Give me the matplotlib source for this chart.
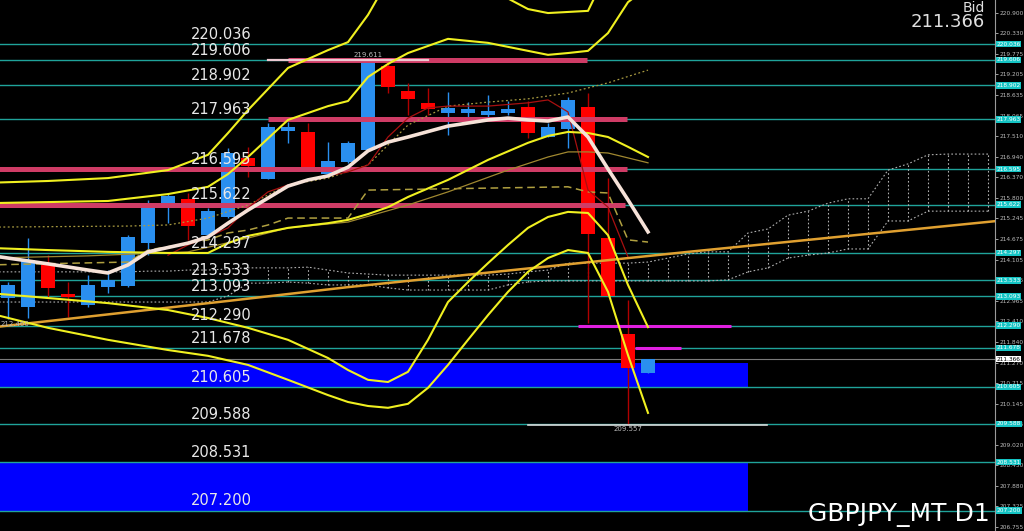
import matplotlib
matplotlib.use("Agg")
import matplotlib.pyplot as plt

# GBPJPY daily candles, oldest first (index 0..32)
OPEN = [213.05, 212.80, 213.96, 213.16, 212.86, 213.35, 213.38, 214.56, 215.55, 215.78,
        214.78, 215.28, 216.90, 216.33, 217.65, 217.62, 216.46, 216.79, 217.12, 219.43,
        218.75, 218.42, 218.14, 218.14, 218.09, 218.14, 218.31, 217.48, 217.70, 218.31,
        214.70, 212.06, 210.99]
HIGH = [213.49, 214.70, 214.23, 213.49, 213.68, 213.82, 214.78, 215.75, 215.91, 215.94,
        215.53, 217.18, 217.21, 217.87, 217.89, 217.87, 217.34, 217.37, 219.611, 219.52,
        218.97, 218.83, 218.72, 218.44, 218.64, 218.47, 218.47, 217.87, 218.58, 218.69,
        216.35, 213.00, 211.37]
LOW = [212.46, 212.50, 213.08, 212.53, 212.80, 213.19, 213.35, 214.23, 215.11, 214.65,
       214.73, 215.25, 216.38, 216.33, 217.32, 216.65, 216.46, 216.77, 217.10, 218.69,
       218.09, 218.09, 217.54, 217.95, 217.95, 218.09, 217.45, 217.48, 217.18, 212.36,
       213.11, 209.557, 210.99]
CLOSE = [213.41, 214.10, 213.33, 213.08, 213.41, 213.55, 214.73, 215.64, 215.86, 215.03,
         215.44, 217.04, 216.68, 217.76, 217.76, 216.66, 216.82, 217.32, 219.58, 218.86,
         218.53, 218.25, 218.28, 218.25, 218.20, 218.25, 217.59, 217.76, 218.50, 214.81,
         213.11, 211.13, 211.366]
BID = 211.366

# horizontal levels drawn on the chart
LEVELS = [220.036, 219.606, 218.902, 217.963, 216.595, 215.622, 214.297, 213.533,
          213.093, 212.290, 211.678, 210.605, 209.588, 208.531, 207.200]

# right price scale
TICKS = [220.900, 220.330, 219.775, 219.205, 218.635, 218.065, 217.510, 216.940,
         216.370, 215.800, 215.245, 214.675, 214.105, 213.535, 212.965, 212.410,
         211.840, 211.270, 210.715, 210.145, 209.575, 209.020, 208.450, 207.880,
         207.325, 206.755]

# bollinger style bands (yellow)
BB_X = [-1, 2, 5, 8, 10, 11, 12, 14, 16, 17, 18, 19, 20, 22, 24, 26, 27, 28, 29, 30, 31, 32]
BB_UP3 = [216.22, 216.27, 216.35, 216.57, 216.99, 217.59, 218.22, 219.38, 219.87, 220.09, 220.84,
          221.80, 222.35, 222.62, 221.58, 221.00, 220.89, 220.92, 220.95, 222.08, 223.17, 223.97]
BB_UP2 = [215.66, 215.69, 215.72, 215.91, 216.11, 216.46, 216.93, 217.95, 218.33, 218.47, 219.13,
          219.49, 219.79, 220.18, 220.07, 219.85, 219.74, 219.79, 219.85, 220.34, 221.19, 221.61]
BB_MID = [214.43, 214.37, 214.32, 214.29, 214.29, 214.56, 214.76, 214.98, 215.11, 215.20, 215.36,
          215.55, 215.83, 216.30, 216.85, 217.32, 217.51, 217.62, 217.59, 217.48, 217.21, 216.93]

LB_X = [-1, 2, 5, 8, 10, 12, 14, 16, 17, 18, 19, 20, 21, 22, 23, 24, 25, 26, 27, 28, 29, 30, 31, 32]
BB_LO2 = [213.19, 213.05, 212.91, 212.72, 212.50, 212.23, 211.90, 211.40, 211.07, 210.80, 210.74,
          211.02, 211.90, 212.94, 213.49, 214.01, 214.51, 214.98, 215.28, 215.42, 215.39, 214.78,
          213.41, 212.25]
BB_LO3 = [212.64, 212.23, 211.90, 211.62, 211.46, 211.21, 210.80, 210.38, 210.19, 210.08, 210.03,
          210.14, 210.58, 211.21, 211.90, 212.58, 213.22, 213.77, 214.15, 214.37, 214.29, 213.22,
          211.48, 209.89]

# white moving average
MA_X = [-1, 0, 2, 4, 5, 6, 7, 9, 10, 11, 12, 13, 14, 15, 16, 17, 18, 19, 20, 22, 24, 25, 26, 27,
        28, 29, 30, 31, 32]
MA = [214.23, 214.15, 213.99, 213.82, 213.74, 213.96, 214.32, 214.56, 214.73, 215.11, 215.47,
      215.80, 216.13, 216.30, 216.41, 216.65, 217.10, 217.34, 217.48, 217.78, 217.95, 218.00,
      217.95, 217.92, 218.03, 217.48, 216.60, 215.75, 214.87]

# long moving average (gold)
LMA_X = [-1, 11, 17, 34, 50]
LMA = [212.23, 212.97, 213.35, 214.32, 215.20]

# thin olive average
EMA_X = [-1, 4, 9, 12, 14, 17, 20, 22, 25, 27, 28, 29, 30, 32]
EMA = [214.15, 214.21, 214.32, 214.70, 214.98, 215.14, 215.61, 215.97, 216.57, 216.93, 217.07,
       217.07, 217.04, 216.77]

# ichimoku tenkan / kijun
TENKAN_X = [8, 9, 10, 11, 12, 13, 14, 15, 16, 17, 18, 19, 20, 21, 22, 24, 26, 27, 28, 29, 30, 31]
TENKAN = [214.23, 214.51, 214.73, 214.98, 215.53, 215.97, 216.16, 216.30, 216.41, 216.52, 216.71,
          217.48, 218.00, 218.28, 218.33, 218.33, 218.42, 218.50, 218.17, 216.02, 215.55, 214.18]
KIJUN_X = [-1, 6, 7, 10, 11, 12, 13, 14, 17, 18, 28, 29, 30, 31, 32]
KIJUN = [213.96, 214.04, 214.37, 214.65, 214.84, 214.92, 215.06, 215.25, 215.25, 216.02, 216.11,
         215.97, 215.94, 214.65, 214.59]

# dotted olive line
DOT_X = [-1, 6, 8, 10, 12, 14, 16, 18, 20, 22, 24, 26, 28, 30, 32]
DOT = [215.00, 215.03, 215.06, 215.25, 215.61, 216.16, 216.35, 216.71, 217.81, 218.33, 218.44,
       218.53, 218.69, 218.97, 219.32]

# cloud spans, index -1..49
SPAN_X = list(range(-1, 50))
SPAN_A = [213.77] * 8 + [213.79, 213.79, 213.82, 213.82, 213.85, 213.88, 213.88, 213.88, 213.90,
                         213.82, 213.74, 213.71] + [213.68] * 6 + [213.71, 213.77, 213.82] + \
         [214.01] * 4 + [214.04, 214.15, 214.26, 214.32, 214.32, 214.84, 214.95, 215.33, 215.44,
                         215.66, 215.78, 215.78, 216.57, 216.74, 216.99, 217.01, 217.01, 217.01]
SPAN_B = [212.94] * 12 + [213.11, 213.46, 213.46, 213.49, 213.46, 213.41, 213.41, 213.41,
                          213.33] + [213.27] * 5 + [213.41, 213.49] + [213.52] * 9 + \
         [213.55, 213.77, 213.88, 214.15, 214.23, 214.29, 214.40, 214.40, 215.17, 215.17] + \
         [215.44] * 4

# drawn objects: (price, start index, end index)
RED_LINES = [(219.606, 14, 28.95), (217.963, 13, 30.95), (216.595, -1, 30.95), (215.622, -1, 30.85)]
MAGENTA_LINES = [(212.290, 28.5, 36.15), (211.678, 31.35, 33.65)]
BOXES = [(211.26, 210.605), (208.531, 207.200)]
BOX_END = 37
HIGH_MARK = (219.611, 13, 21)
LOW_MARK = (209.557, 26, 37.95)

BG = "black"
TEAL = "#1fa39a"

fig = plt.figure(figsize=(10.24, 5.31), dpi=100, facecolor=BG)
ax = fig.add_axes([0, 0, 995 / 1024, 1], facecolor=BG)
ax.set_xlim(-0.4, 49.35)
ax.set_ylim(206.641, 221.249)

# blue zones
for top, bot in BOXES:
    ax.fill_between([-1, BOX_END], bot, top, color="#0000ff", lw=0, zorder=1)

# level lines + labels
for lv in LEVELS:
    ax.axhline(lv, color=TEAL, lw=1, zorder=2)
    ax.text(9.15, lv + 0.06, f"{lv:.3f}", color="#e8e8e8", fontsize=10.5,
            va="bottom", ha="left", zorder=6)
ax.axhline(BID, color="#7a7a7a", lw=0.8, zorder=2)

# cloud
ax.plot(SPAN_X, SPAN_A, color="#b0b0b0", lw=0.8, ls=(0, (1.5, 2)), zorder=2)
ax.plot(SPAN_X, SPAN_B, color="#b0b0b0", lw=0.8, ls=(0, (1.5, 2)), zorder=2)
for i, a, b in zip(SPAN_X, SPAN_A, SPAN_B):
    if i >= 13:
        ax.vlines(i, b, a, color="#b0b0b0", lw=0.8, ls=(0, (1.5, 2)), zorder=2)

# horizontal objects
for p, x0, x1 in RED_LINES:
    ax.plot([x0, x1], [p, p], color="#cf3c66", lw=3.6, solid_capstyle="butt", zorder=5)
p, x0, x1 = HIGH_MARK
ax.plot([x0, x1], [p, p], color="#eccad2", lw=1.6, zorder=5)
ax.text(18, p + 0.04, f"{p:.3f}", color="#bbbbbb", fontsize=5, ha="center", va="bottom", zorder=6)
for p, x0, x1 in MAGENTA_LINES:
    ax.plot([x0, x1], [p, p], color="#e020e0", lw=2.2, solid_capstyle="butt", zorder=5)
p, x0, x1 = LOW_MARK
ax.plot([x0, x1], [p, p], color="#d8d8d8", lw=1.2, zorder=5)
ax.text(31, p - 0.04, f"{p:.3f}", color="#bbbbbb", fontsize=5, ha="center", va="top", zorder=6)
ax.text(-0.35, LOW[0] - 0.03, f"{LOW[0]:.3f}", color="#bbbbbb", fontsize=5, ha="left",
        va="top", zorder=6)

# candles
for i in range(len(OPEN)):
    up = CLOSE[i] >= OPEN[i]
    body = "#2a8fef" if up else "#ff0000"
    wick = "#2a8fef" if up else "#b00000"
    ax.vlines(i, LOW[i], HIGH[i], color=wick, lw=1, zorder=4)
    lo, hi = min(OPEN[i], CLOSE[i]), max(OPEN[i], CLOSE[i])
    ax.bar(i, hi - lo, bottom=lo, width=0.74, color=body, lw=0, zorder=4)

# indicators
ax.plot(DOT_X, DOT, color="#a89a40", lw=0.9, ls=(0, (1.5, 2)), zorder=5)
ax.plot(KIJUN_X, KIJUN, color="#b0a040", lw=1.1, ls=(0, (5, 3)), zorder=5)
ax.plot(TENKAN_X, TENKAN, color="#a81010", lw=0.9, zorder=5)
ax.plot(EMA_X, EMA, color="#a08830", lw=0.9, zorder=5)
ax.plot(LMA_X, LMA, color="#e0a030", lw=1.8, zorder=5)
for ys in (BB_UP3, BB_UP2, BB_MID):
    ax.plot(BB_X, ys, color="#f0f020", lw=1.5, zorder=5)
for ys in (BB_LO2, BB_LO3):
    ax.plot(LB_X, ys, color="#f0f020", lw=1.5, zorder=5)
ax.plot(MA_X, MA, color="#f6e2d8", lw=2.6, zorder=6)

# price scale on the right
for s in ("left", "top", "bottom"):
    ax.spines[s].set_visible(False)
ax.spines["right"].set_color("#9a9a9a")
ax.set_xticks([])
ax.yaxis.tick_right()
ax.set_yticks(TICKS)
ax.set_yticklabels([f"{t:.3f}" for t in TICKS])
ax.tick_params(axis="y", colors="#bbbbbb", labelsize=4.2, length=2, width=0.6, pad=1.2)
tr = ax.get_yaxis_transform()
for lv in LEVELS:
    ax.text(1.0015, lv, f"{lv:.3f}", transform=tr, fontsize=4.2, color="white",
            va="center", ha="left", clip_on=False, zorder=7,
            bbox=dict(boxstyle="square,pad=0.12", fc="#14c4c4", ec="none"))
ax.text(1.0015, BID, f"{BID:.3f}", transform=tr, fontsize=4.2, color="black",
        va="center", ha="left", clip_on=False, zorder=7,
        bbox=dict(boxstyle="square,pad=0.12", fc="white", ec="none"))

# corner texts
ax.text(0.99, 0.998, "Bid", transform=ax.transAxes, color="#e0e0e0", fontsize=10,
        ha="right", va="top")
ax.text(0.99, 0.975, f"{BID:.3f}", transform=ax.transAxes, color="#e0e0e0", fontsize=13,
        ha="right", va="top")
ax.text(0.995, 0.008, "GBPJPY_MT D1", transform=ax.transAxes, color="white", fontsize=18,
        ha="right", va="bottom")

fig.savefig("out.png", dpi=100, facecolor=BG)
